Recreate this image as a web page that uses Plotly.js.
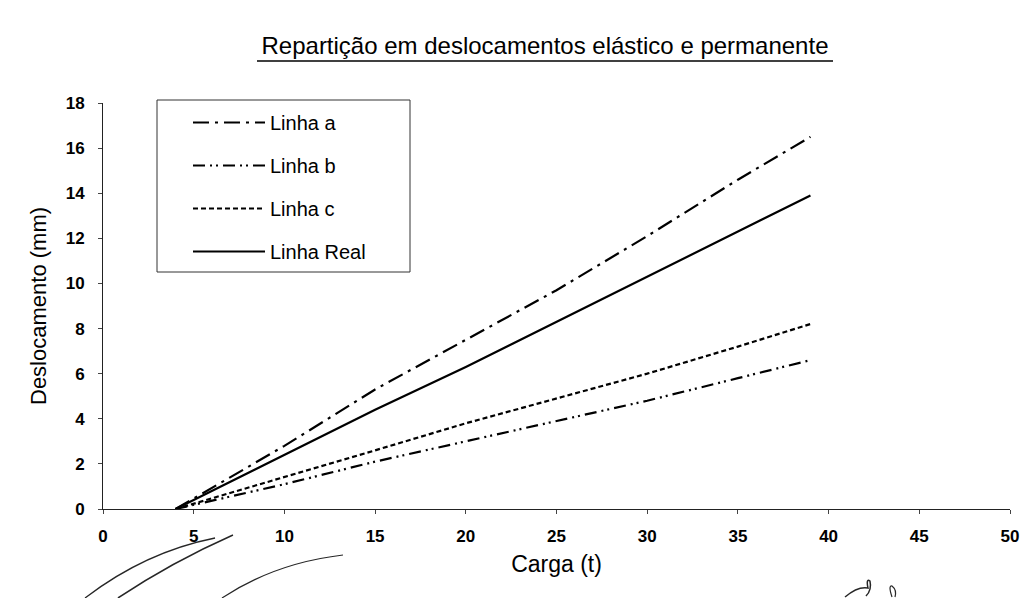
<!DOCTYPE html>
<html>
<head>
<meta charset="utf-8">
<script src="https://cdn.plot.ly/plotly-3.0.1.min.js"></script>
<style>html,body{margin:0;padding:0;background:#fff;}#chart{width:1027px;height:598px;}</style>
</head>
<body>
<div id="chart"></div>
<script>
// Data (Carga in t, Deslocamento in mm)
const carga = [4, 10, 15, 20, 25, 30, 35, 39];
const linhaA = [0, 2.8, 5.3, 7.5, 9.7, 12.1, 14.6, 16.5];
const linhaB = [0, 1.1, 2.1, 3.0, 3.9, 4.8, 5.8, 6.6];
const linhaC = [0, 1.4, 2.6, 3.8, 4.9, 6.0, 7.2, 8.2];
const linhaReal = [0, 2.4, 4.4, 6.3, 8.3, 10.3, 12.3, 13.9];
const names = ['Linha a', 'Linha b', 'Linha c', 'Linha Real'];
const xTicks = [0, 5, 10, 15, 20, 25, 30, 35, 40, 45, 50];
const yTicks = [0, 2, 4, 6, 8, 10, 12, 14, 16, 18];

const W = 1027, H = 598;
const M = {l: 103, r: 17, t: 103, b: 89};
const pw = W - M.l - M.r, ph = H - M.t - M.b;
function px(x) { return (x - M.l) / pw; }
function py(y) { return (H - M.b - y) / ph; }
function P(x, y) { return px(x).toFixed(4) + ',' + py(y).toFixed(4); }

const series = [linhaA, linhaB, linhaC, linhaReal];
const dashes = ['16px,6px,3px,6px', '12px,5px,2px,4px,2px,5px', '5px,3px', 'solid'];
const traces = series.map((s, i) => ({
  x: carga, y: s, name: names[i], type: 'scatter', mode: 'lines',
  legendgroup: 'g' + i,
  line: {color: '#000', width: 2.2, dash: dashes[i]}
}));

const scan = 'rgba(0,0,0,0.85)';
const shapes = [
  // legend box
  {type: 'rect', xref: 'paper', yref: 'paper', x0: px(157), x1: px(410), y0: py(272), y1: py(100),
   line: {color: '#333', width: 1}},
  // title underline
  {type: 'line', xref: 'paper', yref: 'paper', x0: px(257), x1: px(833), y0: py(61), y1: py(61),
   line: {color: '#000', width: 1.5}},
  // scan pen strokes
  {type: 'path', xref: 'paper', yref: 'paper', path: 'M' + P(85, 598) + ' Q' + P(145, 552) + ' ' + P(215, 538), line: {color: scan, width: 1.3}},
  {type: 'path', xref: 'paper', yref: 'paper', path: 'M' + P(118, 598) + ' Q' + P(172, 562) + ' ' + P(233, 535), line: {color: scan, width: 1.5}},
  {type: 'path', xref: 'paper', yref: 'paper', path: 'M' + P(222, 598) + ' Q' + P(275, 563) + ' ' + P(343, 555), line: {color: scan, width: 1.2}},
  {type: 'path', xref: 'paper', yref: 'paper', path: 'M' + P(845, 597) + ' Q' + P(858, 586) + ' ' + P(868, 588) + ' Q' + P(866, 578) + ' ' + P(870, 581) + ' Q' + P(872, 590) + ' ' + P(866, 596), line: {color: scan, width: 1.5}},
  {type: 'path', xref: 'paper', yref: 'paper', path: 'M' + P(892, 597) + ' Q' + P(888, 585) + ' ' + P(892, 586) + ' Q' + P(897, 590) + ' ' + P(895, 597), line: {color: scan, width: 1.2}}
];

const FF = 'Liberation Sans, Arial, sans-serif';
const tickFont = {family: FF, size: 17, color: '#000', weight: 'bold'};
const layout = {
  width: W, height: H,
  margin: M,
  paper_bgcolor: '#fff', plot_bgcolor: '#fff',
  font: {family: FF, color: '#000'},
  title: {text: 'Repartição em deslocamentos elástico e permanente',
    font: {family: FF, size: 24, color: '#000'},
    x: 545 / W, xanchor: 'center', y: 1 - 46 / H, yanchor: 'middle', xref: 'container', yref: 'container'},
  xaxis: {range: [0, 50], tickvals: xTicks, ticktext: xTicks.map(String),
    showgrid: false, zeroline: false, showline: true, linecolor: '#222', linewidth: 1,
    ticks: 'outside', ticklen: 4, tickcolor: '#444', tickfont: tickFont, ticklabelstandoff: 8,
    title: {text: 'Carga (t)', font: {family: FF, size: 23, color: '#000'}, standoff: 10}, automargin: false},
  yaxis: {range: [0, 18], tickvals: yTicks, ticktext: yTicks.map(String),
    showgrid: false, zeroline: false, showline: true, linecolor: '#222', linewidth: 1,
    ticks: 'outside', ticklen: 4, tickcolor: '#444', tickfont: tickFont, ticklabelstandoff: 10,
    title: {text: 'Deslocamento (mm)', font: {family: FF, size: 22, color: '#000'}, standoff: 12}, automargin: false},
  showlegend: true,
  legend: {x: px(188), y: py(103), xanchor: 'left', yanchor: 'top',
    bgcolor: 'rgba(0,0,0,0)', borderwidth: 0, itemwidth: 72, tracegroupgap: 14,
    font: {family: FF, size: 20, color: '#000'}},
  shapes: shapes
};

Plotly.newPlot('chart', traces, layout, {displayModeBar: false, staticPlot: true});
</script>
</body>
</html>
